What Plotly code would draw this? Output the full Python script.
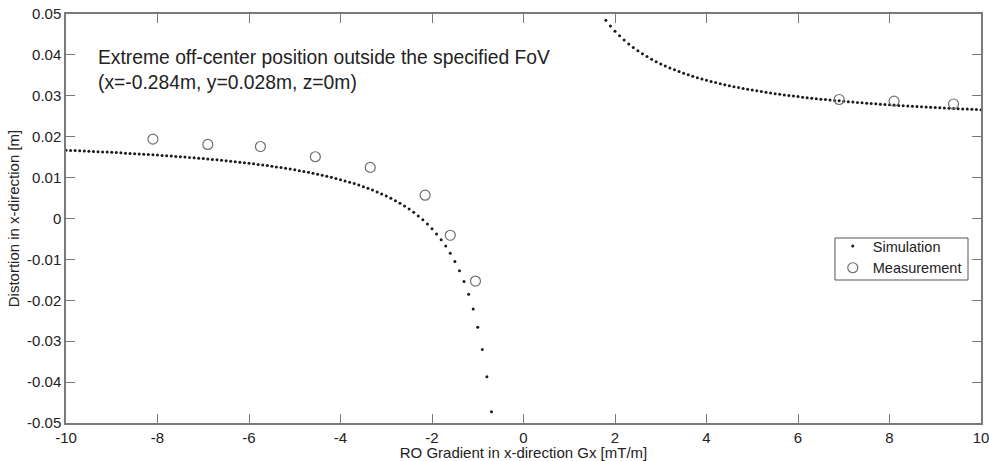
import plotly.graph_objects as go

# Simulation, negative gradient branch (Gx in mT/m, distortion in m)
sim_neg_x = [-10.0, -9.9, -9.8, -9.7, -9.6, -9.5, -9.4, -9.3, -9.2, -9.1,
             -9.0, -8.9, -8.8, -8.7, -8.6, -8.5, -8.4, -8.3, -8.2, -8.1,
             -8.0, -7.9, -7.8, -7.7, -7.6, -7.5, -7.4, -7.3, -7.2, -7.1,
             -7.0, -6.9, -6.8, -6.7, -6.6, -6.5, -6.4, -6.3, -6.2, -6.1,
             -6.0, -5.9, -5.8, -5.7, -5.6, -5.5, -5.4, -5.3, -5.2, -5.1,
             -5.0, -4.9, -4.8, -4.7, -4.6, -4.5, -4.4, -4.3, -4.2, -4.1,
             -4.0, -3.9, -3.8, -3.7, -3.6, -3.5, -3.4, -3.3, -3.2, -3.1,
             -3.0, -2.9, -2.8, -2.7, -2.6, -2.5, -2.4, -2.3, -2.2, -2.1,
             -2.0, -1.9, -1.8, -1.7, -1.6, -1.5, -1.4, -1.3, -1.2, -1.1,
             -1.0, -0.9, -0.8, -0.7]
sim_neg_y = [0.01670, 0.01665, 0.01660, 0.01655, 0.01650, 0.01645, 0.01639, 0.01634, 0.01628, 0.01623,
             0.01617, 0.01611, 0.01605, 0.01598, 0.01592, 0.01585, 0.01579, 0.01572, 0.01565, 0.01557,
             0.01550, 0.01542, 0.01535, 0.01527, 0.01518, 0.01510, 0.01501, 0.01492, 0.01483, 0.01474,
             0.01464, 0.01454, 0.01444, 0.01434, 0.01423, 0.01412, 0.01400, 0.01388, 0.01376, 0.01363,
             0.01350, 0.01336, 0.01322, 0.01308, 0.01293, 0.01277, 0.01261, 0.01244, 0.01227, 0.01209,
             0.01190, 0.01170, 0.01150, 0.01129, 0.01107, 0.01083, 0.01059, 0.01034, 0.01007, 0.00979,
             0.00950, 0.00919, 0.00887, 0.00853, 0.00817, 0.00779, 0.00738, 0.00695, 0.00650, 0.00602,
             0.00550, 0.00495, 0.00436, 0.00372, 0.00304, 0.00230, 0.00150, 0.00063, -0.00032, -0.00136,
             -0.00250, -0.00376, -0.00517, -0.00674, -0.00850, -0.01050, -0.01279, -0.01542, -0.01850, -0.02214,
             -0.02660, -0.03203, -0.03870, -0.04727]

# Simulation, positive gradient branch
sim_pos_x = [1.8, 1.9, 2.0, 2.1, 2.2, 2.3, 2.4, 2.5, 2.6, 2.7, 2.8, 2.9,
             3.0, 3.1, 3.2, 3.3, 3.4, 3.5, 3.6, 3.7, 3.8, 3.9,
             4.0, 4.1, 4.2, 4.3, 4.4, 4.5, 4.6, 4.7, 4.8, 4.9,
             5.0, 5.1, 5.2, 5.3, 5.4, 5.5, 5.6, 5.7, 5.8, 5.9,
             6.0, 6.1, 6.2, 6.3, 6.4, 6.5, 6.6, 6.7, 6.8, 6.9,
             7.0, 7.1, 7.2, 7.3, 7.4, 7.5, 7.6, 7.7, 7.8, 7.9,
             8.0, 8.1, 8.2, 8.3, 8.4, 8.5, 8.6, 8.7, 8.8, 8.9,
             9.0, 9.1, 9.2, 9.3, 9.4, 9.5, 9.6, 9.7, 9.8, 9.9, 10.0]
sim_pos_y = [0.04847, 0.04706, 0.04580, 0.04466, 0.04362, 0.04267, 0.04180, 0.04100, 0.04026, 0.03958, 0.03894, 0.03835,
             0.03780, 0.03728, 0.03680, 0.03635, 0.03592, 0.03551, 0.03513, 0.03477, 0.03443, 0.03411,
             0.03380, 0.03351, 0.03323, 0.03296, 0.03271, 0.03247, 0.03223, 0.03201, 0.03180, 0.03160,
             0.03140, 0.03121, 0.03103, 0.03086, 0.03069, 0.03053, 0.03037, 0.03022, 0.03008, 0.02994,
             0.02980, 0.02967, 0.02954, 0.02942, 0.02930, 0.02918, 0.02907, 0.02896, 0.02886, 0.02876,
             0.02866, 0.02856, 0.02847, 0.02838, 0.02829, 0.02820, 0.02812, 0.02803, 0.02795, 0.02788,
             0.02780, 0.02773, 0.02765, 0.02758, 0.02751, 0.02745, 0.02738, 0.02732, 0.02725, 0.02719,
             0.02713, 0.02707, 0.02702, 0.02696, 0.02691, 0.02685, 0.02680, 0.02675, 0.02670, 0.02665, 0.02660]

# Measurements
meas_x = [-8.1, -6.9, -5.75, -4.55, -3.35, -2.15, -1.6, -1.05, 6.9, 8.1, 9.4]
meas_y = [0.0194, 0.0181, 0.0176, 0.0151, 0.0125, 0.0057, -0.0041, -0.0153, 0.0291, 0.0287, 0.0280]

x_ticks = [-10, -8, -6, -4, -2, 0, 2, 4, 6, 8, 10]
y_ticks = [-0.05, -0.04, -0.03, -0.02, -0.01, 0, 0.01, 0.02, 0.03, 0.04, 0.05]
y_tick_text = ["-0.05", "-0.04", "-0.03", "-0.02", "-0.01", "0", "0.01", "0.02", "0.03", "0.04", "0.05"]

FONT = "Liberation Sans, Arial, sans-serif"
AXIS_COLOR = "#7a7a7a"
TEXT_COLOR = "#222222"

fig = go.Figure()
fig.add_trace(go.Scatter(
    x=sim_neg_x + [None] + sim_pos_x,
    y=sim_neg_y + [None] + sim_pos_y,
    mode="markers", name="Simulation",
    marker=dict(symbol="circle", size=3, color="#1a1a1a"),
))
fig.add_trace(go.Scatter(
    x=meas_x, y=meas_y, mode="markers", name="Measurement",
    marker=dict(symbol="circle-open", size=10, color="#6e6e6e", line=dict(width=1.2, color="#6e6e6e")),
))

axis_common = dict(
    showline=True, linecolor=AXIS_COLOR, linewidth=1.5, mirror="ticks",
    ticks="inside", ticklen=9, tickcolor=AXIS_COLOR, tickwidth=1,
    showgrid=False, zeroline=False, automargin=False,
    ticklabeloverflow="allow",
    tickfont=dict(family=FONT, size=15, color=TEXT_COLOR),
)

fig.update_xaxes(
    range=[-10, 10], tickvals=x_ticks, ticktext=[str(t) for t in x_ticks],
    title=dict(text="RO Gradient in x-direction Gx [mT/m]", font=dict(family=FONT, size=15, color=TEXT_COLOR), standoff=0),
    **axis_common,
)
fig.update_yaxes(
    range=[-0.05, 0.05], tickvals=y_ticks, ticktext=y_tick_text,
    title=dict(text="Distortion in x-direction [m]", font=dict(family=FONT, size=15, color=TEXT_COLOR), standoff=4),
    **axis_common,
)

fig.add_annotation(
    x=0.033, y=0.925, xref="paper", yref="paper", xanchor="left", yanchor="top",
    text="Extreme off-center position outside the specified FoV<br>(x=-0.284m, y=0.028m, z=0m)",
    showarrow=False, align="left",
    font=dict(family=FONT, size=19.3, color=TEXT_COLOR),
)

# legend frame
fig.add_shape(
    type="rect", xref="paper", yref="paper",
    x0=0.8404, x1=0.9858, y0=0.3496, y1=0.4523,
    line=dict(color="#555555", width=1), fillcolor="white", layer="above",
)

fig.update_layout(
    width=989, height=461,
    margin=dict(l=66, r=8, t=14, b=38),
    plot_bgcolor="white", paper_bgcolor="white",
    showlegend=True,
    legend=dict(
        x=0.838, y=0.472, xanchor="left", yanchor="top",
        borderwidth=0, bgcolor="rgba(0,0,0,0)",
        font=dict(family=FONT, size=14.5, color=TEXT_COLOR),
        itemwidth=30, tracegroupgap=0,
    ),
)

fig.write_html("out.html")
